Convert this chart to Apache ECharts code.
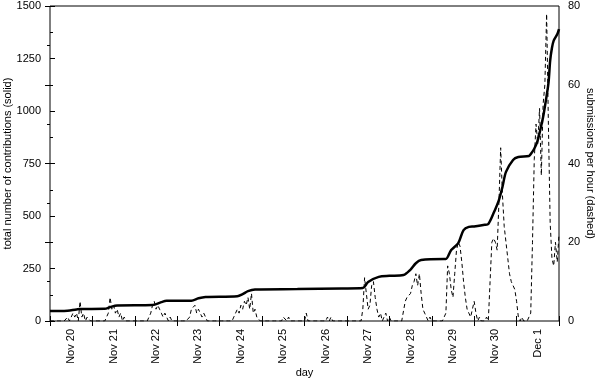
<!DOCTYPE html>
<html>
<head>
<meta charset="utf-8">
<script src="https://cdn.jsdelivr.net/npm/echarts@6.0.0/dist/echarts.min.js"></script>
<style>
  html, body { margin: 0; padding: 0; background: #fff; }
  #chart { width: 598px; height: 380px; }
</style>
</head>
<body>
<div id="chart"></div>
<script>
// x is hours since the start of Nov 20; one label per day, centred on the day
const dayLabels = ["Nov 20", "Nov 21", "Nov 22", "Nov 23", "Nov 24", "Nov 25",
  "Nov 26", "Nov 27", "Nov 28", "Nov 29", "Nov 30", "Dec 1"];

// total number of contributions (solid)
const contribHours = [0, 8, 15, 17, 31, 34, 38, 58, 63, 66, 80, 84, 88, 106, 109, 112, 116,
  140, 165, 177, 180, 186, 192, 200, 204, 207, 210, 223, 224, 227, 231, 234, 237, 240, 246,
  248, 251, 254, 256, 258, 262, 265, 271, 272, 274, 276, 279, 280, 282, 283, 284, 285, 287, 288];
const contribTotals = [48, 48, 55, 57, 58, 66, 74, 76, 90, 96, 97, 108, 114, 118, 128, 142, 150,
  152, 155, 157, 186, 210, 215, 219, 245, 275, 290, 295, 295, 338, 371, 433, 448, 450, 458,
  462, 514, 576, 638, 710, 767, 781, 786, 795, 820, 862, 971, 1020, 1130, 1240, 1300, 1335, 1365, 1390];

// submissions per hour (dashed), one value per hour, 24 per day
const ratePerHour = [
  0, 0, 0, 0, 0, 0, 0, 0, 0, 0, 1, 0, 1, 2, 1, 2, 0, 5, 1, 2, 0, 1, 1, 0,
  0, 0, 0, 0, 0, 0, 0, 0, 0, 2, 6, 3, 4, 2, 3, 1, 2, 0, 1, 0, 0, 0, 0, 0,
  0, 0, 0, 0, 0, 0, 0, 0, 1, 2, 4, 5, 3, 4, 3, 2, 1, 2, 1, 0, 1, 0, 0, 0,
  0, 0, 0, 0, 0, 0, 0, 1, 3, 3, 4, 2, 3, 3, 1, 2, 1, 0, 0, 0, 0, 0, 0, 0,
  0, 0, 0, 0, 0, 0, 0, 0, 1, 2, 3, 2, 4, 3, 5, 4, 6, 3, 7, 2, 3, 1, 1, 0,
  0, 0, 0, 0, 0, 0, 0, 0, 0, 0, 0, 0, 1, 1, 0, 1, 0, 0, 0, 0, 0, 0, 0, 0,
  0, 2, 0, 0, 0, 0, 0, 0, 0, 0, 0, 0, 0, 1, 0, 1, 0, 0, 0, 0, 0, 0, 0, 0,
  0, 0, 0, 0, 0, 0, 0, 0, 0, 3, 11, 7, 3, 4, 9, 10, 6, 3, 1, 2, 0, 1, 2, 0,
  1, 0, 0, 0, 0, 0, 0, 0, 0, 5, 6, 6, 7, 9, 10, 12, 9, 12, 7, 3, 2, 1, 0, 1,
  0, 0, 0, 0, 0, 0, 0, 0, 2, 14, 12, 8, 6, 12, 18, 20, 19, 15, 10, 6, 3, 2, 1, 3,
  5, 2, 0, 1, 0, 0, 0, 1, 0, 10, 20, 21, 20, 18, 30, 44, 32, 24, 20, 16, 12, 10, 10, 8,
  5, 1, 0, 1, 0, 0, 0, 0, 2, 20, 41, 50, 45, 54, 37, 55, 60, 78, 50, 25, 16, 14, 20, 15,
  22
];

const font = "Liberation Sans";
const ink = "#000";

const chart = echarts.init(document.getElementById("chart"));

const tickAxis = (position) => ({
  type: "value",
  position: position,
  min: 0,
  max: 288,
  interval: 24,
  axisLine: { show: false },
  axisTick: { inside: true, length: 5, lineStyle: { color: ink } },
  axisLabel: { show: false },
  splitLine: { show: false },
});

const nameStyle = { fontFamily: font, fontSize: 11, color: ink };

chart.setOption({
  animation: false,
  grid: {
    left: 50,
    right: 39,
    top: 6,
    bottom: 59,
    containLabel: false,
    outerBoundsMode: "none",
    show: true,
    borderColor: ink,
    borderWidth: 1,
  },
  xAxis: [
    tickAxis("bottom"),
    tickAxis("top"),
    {
      type: "value",
      position: "bottom",
      min: 0,
      max: 288,
      interval: 12,
      axisLine: { show: false },
      axisTick: { show: false },
      splitLine: { show: false },
      axisLabel: {
        rotate: 90,
        margin: 8,
        fontFamily: font,
        fontSize: 11,
        color: ink,
        formatter: (v) => (v % 24 === 12 ? dayLabels[(v - 12) / 24] : ""),
      },
      name: "day",
      nameLocation: "middle",
      nameGap: 46,
      nameMoveOverlap: false,
      nameTextStyle: nameStyle,
    },
  ],
  yAxis: [
    {
      type: "value",
      min: 0,
      max: 1500,
      interval: 250,
      axisLine: { show: false },
      axisTick: { inside: true, length: 5, lineStyle: { color: ink } },
      minorTick: { show: true, splitNumber: 2, length: 3, lineStyle: { color: ink } },
      splitLine: { show: false },
      axisLabel: { margin: 9, fontFamily: font, fontSize: 11, color: ink, formatter: (v) => String(v) },
      name: "total number of contributions (solid)",
      nameLocation: "middle",
      nameGap: 37,
      nameMoveOverlap: false,
      nameTextStyle: nameStyle,
    },
    {
      type: "value",
      position: "right",
      min: 0,
      max: 80,
      interval: 20,
      axisLine: { show: false },
      axisTick: { inside: true, length: 5, lineStyle: { color: ink } },
      minorTick: { show: true, splitNumber: 2, length: 3, lineStyle: { color: ink } },
      splitLine: { show: false },
      axisLabel: { margin: 9, fontFamily: font, fontSize: 11, color: ink, formatter: (v) => String(v) },
      name: "submissions per hour (dashed)",
      nameLocation: "middle",
      nameRotate: -90,
      nameGap: 26,
      nameMoveOverlap: false,
      nameTextStyle: nameStyle,
    },
  ],
  series: [
    {
      type: "line",
      xAxisIndex: 0,
      yAxisIndex: 1,
      data: ratePerHour.map((v, h) => [h, v]),
      showSymbol: false,
      lineStyle: { color: ink, width: 1, type: [4, 3] },
    },
    {
      type: "line",
      xAxisIndex: 0,
      yAxisIndex: 0,
      data: contribHours.map((h, i) => [h, contribTotals[i]]),
      showSymbol: false,
      smooth: 0.3,
      lineStyle: { color: ink, width: 2.5 },
    },
  ],
});
</script>
</body>
</html>
